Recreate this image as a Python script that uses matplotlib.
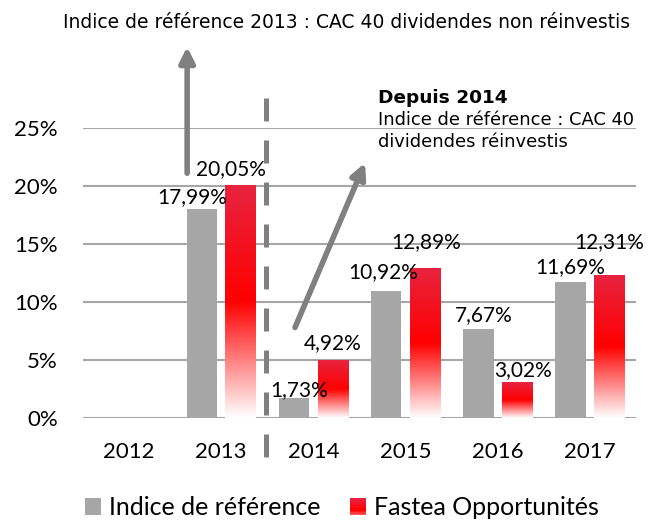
import numpy as np
import matplotlib
matplotlib.use("Agg")
import matplotlib.pyplot as plt
from matplotlib.colors import LinearSegmentedColormap
from matplotlib.patches import Patch, Rectangle
from matplotlib.legend_handler import HandlerBase

# données
annees = ["2012", "2013", "2014", "2015", "2016", "2017"]
indice = [np.nan, 17.99, 1.73, 10.92, 7.67, 11.69]
fastea = [np.nan, 20.05, 4.92, 12.89, 3.02, 12.31]
etiq_indice = ["", "17,99%", "1,73%", "10,92%", "7,67%", "11,69%"]
etiq_fastea = ["", "20,05%", "4,92%", "12,89%", "3,02%", "12,31%"]
yticks = [0, 5, 10, 15, 20, 25]

# décalages des étiquettes (points) : (dx, dy)
dec_indice = [(0, 0), (-7, 9), (4, 6), (-2, 14), (4, 10), (0, 11)]
dec_fastea = [(0, 0), (-7, 12), (0, 13), (1, 19), (4, 9), (0, 24)]

gris = "#a6a6a6"
gris_fonce = "#808080"
rouge = LinearSegmentedColormap.from_list(
    "rouge", [(0, "#ffffff"), (0.5, "#ff0000"), (1, "#e8233f")])


class Degrade(HandlerBase):
    # carré de légende en dégradé
    def create_artists(self, legend, orig_handle, xdescent, ydescent,
                       width, height, fontsize, trans):
        n = 12
        arts = []
        for i in range(n):
            c = rouge(0.3 + 0.7 * (i + 0.5) / n)
            arts.append(Rectangle((-xdescent, -ydescent + i * height / n),
                                  width, height / n + 0.1, facecolor=c,
                                  edgecolor="none", transform=trans))
        return arts


fig = plt.figure(figsize=(6.51, 5.21), dpi=100)
ax = fig.add_axes([83 / 651, 103 / 521, 553 / 651, 290 / 521])

x = np.arange(len(annees))
l = 0.33
b1 = ax.bar(x - 0.21, indice, l, color=gris, zorder=3)
b2 = ax.bar(x + 0.21, fastea, l, color="none", zorder=3)

grad = np.linspace(0, 1, 256).reshape(-1, 1)
for p in b2.patches:
    h = p.get_height()
    if np.isnan(h):
        continue
    ax.imshow(grad, cmap=rouge, origin="lower", aspect="auto", zorder=3,
              extent=(p.get_x(), p.get_x() + p.get_width(), 0, h))

for p, t, d in zip(b1.patches, etiq_indice, dec_indice):
    if t:
        ax.annotate(t, (p.get_x() + p.get_width() / 2, p.get_height()),
                    xytext=d, textcoords="offset points", ha="center",
                    va="center", fontsize=15, family="Lato", zorder=5)
for p, t, d in zip(b2.patches, etiq_fastea, dec_fastea):
    if t:
        ax.annotate(t, (p.get_x() + p.get_width() / 2, p.get_height()),
                    xytext=d, textcoords="offset points", ha="center",
                    va="center", fontsize=15, family="Lato", zorder=5,
                    annotation_clip=False)

ax.set_xlim(-0.5, 5.5)
ax.set_ylim(0, 25)
ax.set_xticks(x)
ax.set_xticklabels(annees, fontsize=16, family="Lato")
ax.set_yticks(yticks)
ax.set_yticklabels([f"{v}%" for v in yticks], fontsize=16, family="Lato")
ax.tick_params(length=0)
ax.tick_params(axis="x", pad=17)
ax.tick_params(axis="y", pad=18)
ax.yaxis.grid(True, color=gris, linewidth=1.5, zorder=0)
for s in ax.spines.values():
    s.set_visible(False)

# séparation 2013 / 2014
ax.plot([1.486, 1.486], [27.6, -3.6], color=gris_fonce, lw=3.6,
        dashes=(4.6, 3.8), clip_on=False, zorder=4)

# flèches
style = dict(arrowstyle="-|>,head_width=0.45,head_length=0.9",
             color=gris_fonce, lw=4, shrinkA=0, shrinkB=0)
ax.annotate("", xy=(0.63, 32.0), xytext=(0.63, 21.1),
            arrowprops=style, annotation_clip=False)
ax.annotate("", xy=(2.56, 22.0), xytext=(1.80, 7.8),
            arrowprops=style, annotation_clip=False)

ax.text(2.36, 34.1, "Indice de référence 2013 : CAC 40 dividendes non réinvestis",
        ha="center", va="center", fontsize=13.5, family="DejaVu Sans")
ax.text(2.70, 27.6, "Depuis 2014", ha="left", va="center", fontsize=13.3,
        fontweight="bold", family="DejaVu Sans")
ax.text(2.70, 25.7, "Indice de référence : CAC 40", ha="left", va="center",
        fontsize=12.9, family="DejaVu Sans")
ax.text(2.70, 23.8, "dividendes réinvestis", ha="left", va="center",
        fontsize=12.9, family="DejaVu Sans")

handles = [Patch(facecolor=gris), Patch(facecolor="#ff0000")]
fig.legend(handles, ["Indice de référence", "Fastea Opportunités"],
           loc="center", bbox_to_anchor=(0.525, 0.025), ncol=2, frameon=False,
           prop={"family": "Lato", "size": 18}, handlelength=0.65,
           handleheight=0.65, handletextpad=0.3, columnspacing=1.2,
           handler_map={handles[1]: Degrade()})

fig.savefig("out.png", dpi=100)
